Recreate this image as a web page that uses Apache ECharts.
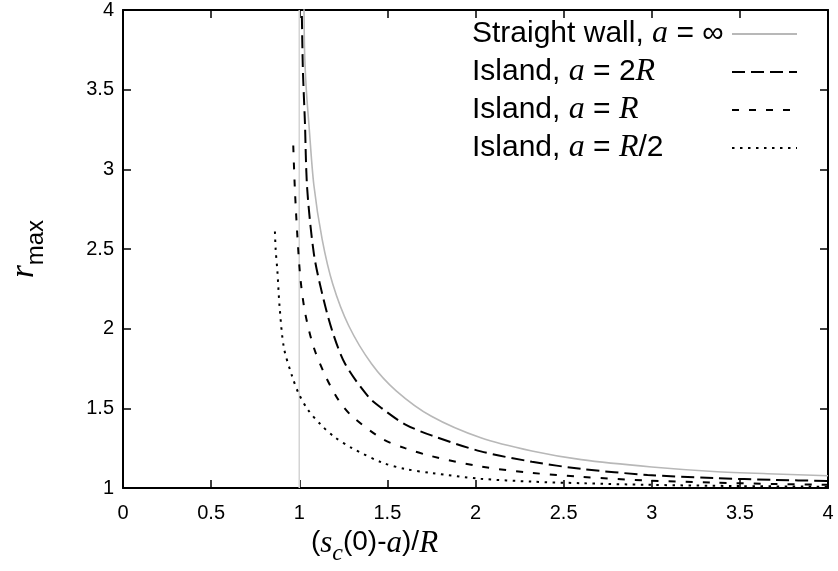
<!DOCTYPE html>
<html><head><meta charset="utf-8">
<script src="https://cdn.jsdelivr.net/npm/echarts@6/dist/echarts.min.js"></script>
<style>html,body{margin:0;padding:0;background:#fff}#c{width:838px;height:571px}</style>
</head><body><div id="c"></div>
<script>
// ---- data ----
const seriesNames = ['Straight wall, a = ∞', 'Island, a = 2R', 'Island, a = R', 'Island, a = R/2'];
const legendLabels = [
  '{n|Straight wall, }{i|a}{n| = ∞}',
  '{n|Island, }{i|a}{n| = 2}{i|R}',
  '{n|Island, }{i|a}{n| = }{i|R}',
  '{n|Island, }{i|a}{n| = }{i|R}{n|/2}'
];

const wallX = [1.026, 1.030, 1.040, 1.055, 1.083, 1.130, 1.190, 1.280, 1.410, 1.550, 1.750, 2.030, 2.320, 2.600, 3.000, 3.350, 3.700, 4.000];
const wallY = [4.20, 3.75, 3.50, 3.28, 2.90, 2.56, 2.28, 2.02, 1.78, 1.61, 1.45, 1.315, 1.232, 1.178, 1.132, 1.104, 1.088, 1.077];

const island2RX = [1.012, 1.020, 1.032, 1.045, 1.083, 1.130, 1.186, 1.260, 1.394, 1.469, 1.600, 1.750, 2.030, 2.320, 2.600, 2.976, 3.350, 3.700, 4.000];
const island2RY = [4.20, 3.65, 3.30, 2.88, 2.47, 2.22, 1.99, 1.78, 1.57, 1.50, 1.40, 1.33, 1.23, 1.165, 1.12, 1.082, 1.062, 1.051, 1.044];

const islandRX = [0.966, 0.975, 0.990, 1.008, 1.035, 1.083, 1.150, 1.224, 1.300, 1.469, 1.600, 1.750, 2.030, 2.320, 2.600, 2.976, 3.350, 3.700, 4.000];
const islandRY = [3.15, 2.88, 2.57, 2.30, 2.09, 1.88, 1.70, 1.55, 1.45, 1.31, 1.25, 1.20, 1.135, 1.095, 1.07, 1.047, 1.034, 1.025, 1.02];

const islandHalfRX = [0.862, 0.866, 0.876, 0.889, 0.913, 0.960, 0.998, 1.050, 1.120, 1.200, 1.300, 1.469, 1.600, 1.750, 2.030, 2.320, 2.600, 2.976, 3.500, 4.000];
const islandHalfRY = [2.61, 2.50, 2.36, 2.13, 1.88, 1.70, 1.59, 1.49, 1.40, 1.32, 1.25, 1.16, 1.12, 1.094, 1.058, 1.04, 1.03, 1.02, 1.012, 1.008];

const asymptoteX = [1, 1];
const asymptoteY = [1, 4];

const xMin = 0, xMax = 4, xStep = 0.5;
const yMin = 1, yMax = 4, yStep = 0.5;

// ---- chart ----
const zip = (xs, ys) => xs.map((x, i) => [x, ys[i]]);
const FS = 'Liberation Sans';
const SERIF = 'Liberation Serif';

const baseAxis = {
  type: 'value',
  axisLine: { onZero: false, lineStyle: { color: '#000', width: 2 } },
  axisTick: { inside: true, length: 8, lineStyle: { color: '#000', width: 1.5 } },
  splitLine: { show: false }
};

const chart = echarts.init(document.getElementById('c'), null, { renderer: 'canvas' });
chart.setOption({
  animation: false,
  backgroundColor: '#fff',
  grid: { left: 120, right: 10, top: 8, bottom: 83 },
  legend: {
    orient: 'vertical', right: 40, top: 18, padding: 0, itemGap: 6,
    itemWidth: 65, itemHeight: 14, align: 'right', selectedMode: false,
    itemStyle: { opacity: 0 },
    data: seriesNames,
    formatter: name => legendLabels[seriesNames.indexOf(name)],
    textStyle: {
      width: 255,
      rich: {
        n: { fontFamily: FS, fontSize: 30, color: '#000', align: 'left', lineHeight: 34 },
        i: { fontFamily: SERIF, fontStyle: 'italic', fontSize: 32, color: '#000', align: 'left', lineHeight: 34 }
      }
    }
  },
  xAxis: [
    Object.assign({}, baseAxis, {
      min: xMin, max: xMax, interval: xStep, position: 'bottom',
      axisLabel: { color: '#000', fontSize: 20, fontFamily: FS, margin: 15 },
      name: '{p|(}{i|s}{sub|c}{p|(0)-}{i|a}{p|)/}{i|R}',
      nameLocation: 'middle', nameGap: 33,
      nameTextStyle: {
        padding: [0, 202, 0, 0],
        rich: {
          p: { fontFamily: FS, fontSize: 28, color: '#000', verticalAlign: 'top' },
          i: { fontFamily: SERIF, fontStyle: 'italic', fontSize: 31, color: '#000', verticalAlign: 'top' },
          sub: { fontFamily: SERIF, fontStyle: 'italic', fontSize: 24, color: '#000', verticalAlign: 'top', padding: [14, 0, 0, 0] }
        }
      }
    }),
    Object.assign({}, baseAxis, {
      min: xMin, max: xMax, interval: xStep, position: 'top',
      axisLabel: { show: false }
    })
  ],
  yAxis: [
    Object.assign({}, baseAxis, {
      min: yMin, max: yMax, interval: yStep, position: 'left',
      axisLabel: { color: '#000', fontSize: 20, fontFamily: FS, margin: 9 },
      name: '{r|r}{s|max}',
      nameLocation: 'middle', nameRotate: 90, nameGap: 75,
      nameTextStyle: {
        rich: {
          r: { fontFamily: SERIF, fontStyle: 'italic', fontSize: 33, color: '#000', verticalAlign: 'top' },
          s: { fontFamily: FS, fontSize: 24, color: '#000', verticalAlign: 'top', padding: [16, 0, 0, 0] }
        }
      }
    }),
    Object.assign({}, baseAxis, {
      min: yMin, max: yMax, interval: yStep, position: 'right',
      axisLabel: { show: false }
    })
  ],
  series: [
    {
      name: 'asymptote', type: 'line', data: zip(asymptoteX, asymptoteY), symbol: 'none',
      lineStyle: { color: '#d4d4d4', width: 1.5 }, z: 1, silent: true
    },
    {
      name: seriesNames[0], type: 'line', data: zip(wallX, wallY), symbol: 'none',
      smooth: 0.3, color: '#b8b8b8', lineStyle: { color: '#b8b8b8', width: 1.6, type: 'solid' }, z: 2
    },
    {
      name: seriesNames[1], type: 'line', data: zip(island2RX, island2RY), symbol: 'none',
      smooth: 0.3, color: '#000', lineStyle: { color: '#000', width: 2, type: [13, 6] }, z: 3
    },
    {
      name: seriesNames[2], type: 'line', data: zip(islandRX, islandRY), symbol: 'none',
      smooth: 0.3, color: '#000', lineStyle: { color: '#000', width: 2, type: [7, 10] }, z: 3
    },
    {
      name: seriesNames[3], type: 'line', data: zip(islandHalfRX, islandHalfRY), symbol: 'none',
      smooth: 0.3, color: '#000', lineStyle: { color: '#000', width: 2, type: [2.5, 5.5] }, z: 3
    }
  ]
});
</script>
</body></html>
